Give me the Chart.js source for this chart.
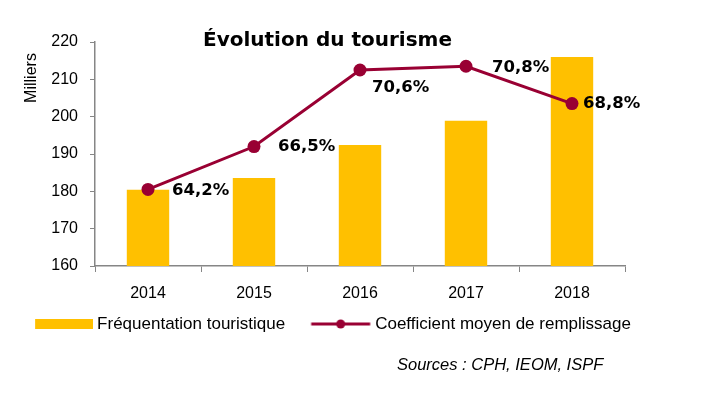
<!DOCTYPE html>
<html>
<head>
<meta charset="utf-8">
<script src="https://cdn.jsdelivr.net/npm/chart.js@4"></script>
<style>
  html, body { margin: 0; padding: 0; background: #fff; }
  #wrap { width: 709px; height: 397px; }
</style>
</head>
<body>
<div id="wrap"><canvas id="chart" width="709" height="397"></canvas></div>
<script>
// Data
const years = ['2014', '2015', '2016', '2017', '2018'];
const frequentation = [180.4, 183.6, 192.4, 198.9, 216.0];   // milliers
const remplissage = [64.2, 66.5, 70.6, 70.8, 68.8];          // %
const yMin = 160, yMax = 220, yStep = 10;

// where each % label sits relative to its point
const labelOffsets = [[24, 1], [24, 0], [12, 18], [26, 1], [11, 0]];

const gold = '#FFC000';
const wine = '#990033';
const axisGrey = '#868686';

// Legend icons (content pushed right inside a wider canvas so the
// gaps between items match the original)
function barIcon() {
    const c = document.createElement('canvas');
    c.width = 81; c.height = 10;
    const ctx = c.getContext('2d');
    ctx.fillStyle = gold;
    ctx.fillRect(23, 0, 58, 10);
    return c;
}
function lineIcon() {
    const c = document.createElement('canvas');
    c.width = 82; c.height = 12;
    const ctx = c.getContext('2d');
    ctx.strokeStyle = wine;
    ctx.lineWidth = 3;
    ctx.beginPath();
    ctx.moveTo(21.5, 6);
    ctx.lineTo(80.5, 6);
    ctx.stroke();
    ctx.fillStyle = wine;
    ctx.beginPath();
    ctx.arc(51, 6, 4.5, 0, Math.PI * 2);
    ctx.fill();
    return c;
}
const legendIcons = [barIcon(), lineIcon()];

// Title, axis caption, source and the % labels
const extras = {
    id: 'extras',
    afterDatasetsDraw(chart) {
        const ctx = chart.ctx;
        ctx.save();
        ctx.fillStyle = '#000';

        ctx.font = 'bold 20px "DejaVu Sans"';
        ctx.textAlign = 'left';
        ctx.textBaseline = 'alphabetic';
        ctx.fillText('Évolution du tourisme', 203, 46);

        ctx.font = 'bold 16.5px "DejaVu Sans"';
        ctx.textBaseline = 'middle';
        const meta = chart.getDatasetMeta(1);
        meta.data.forEach((pt, i) => {
            const txt = remplissage[i].toFixed(1).replace('.', ',') + '%';
            ctx.fillText(txt, pt.x + labelOffsets[i][0], pt.y + labelOffsets[i][1]);
        });

        ctx.font = 'italic 16.5px "Liberation Sans"';
        ctx.fillText('Sources : CPH, IEOM, ISPF', 397, 365);

        ctx.translate(32, 78);
        ctx.rotate(-Math.PI / 2);
        ctx.textAlign = 'center';
        ctx.font = '16px "Liberation Sans"';
        ctx.fillText('Milliers', 0, 0);
        ctx.restore();
    }
};

new Chart(document.getElementById('chart').getContext('2d'), {
    type: 'bar',
    data: {
        labels: years,
        datasets: [{
            label: 'Fréquentation touristique',
            data: frequentation,
            backgroundColor: gold,
            barPercentage: 0.4,
            categoryPercentage: 1,
            yAxisID: 'y',
            order: 1
        }, {
            type: 'line',
            label: 'Coefficient moyen de remplissage',
            data: remplissage,
            borderColor: wine,
            backgroundColor: wine,
            borderWidth: 3,
            pointRadius: 6.5,
            pointBackgroundColor: wine,
            pointBorderWidth: 0,
            tension: 0,
            yAxisID: 'y2',
            order: 0
        }]
    },
    options: {
        responsive: false,
        animation: false,
        devicePixelRatio: 1,
        layout: {
            padding: { left: 0, right: 61.5, top: 42, bottom: 54.5 }
        },
        scales: {
            x: {
                grid: {
                    display: true,
                    offset: true,
                    drawOnChartArea: false,
                    tickLength: 6,
                    color: axisGrey
                },
                border: { color: axisGrey, width: 1.5 },
                ticks: {
                    color: '#000',
                    padding: 12,
                    font: { family: 'Liberation Sans', size: 16 }
                },
                afterFit(scale) { scale.height = 40; }
            },
            y: {
                min: yMin,
                max: yMax,
                grid: {
                    drawOnChartArea: false,
                    tickLength: 5,
                    color: axisGrey
                },
                border: { color: axisGrey, width: 1.5 },
                ticks: {
                    stepSize: yStep,
                    color: '#000',
                    padding: 12,
                    font: { family: 'Liberation Sans', size: 16 }
                },
                afterFit(scale) { scale.width = 95; }
            },
            y2: {
                position: 'right',
                min: 60.1,
                max: 72.1,
                grid: { display: false },
                border: { display: false },
                ticks: { display: false },
                afterFit(scale) { scale.width = 22.5; }
            }
        },
        plugins: {
            tooltip: { enabled: false },
            legend: {
                position: 'bottom',
                labels: {
                    usePointStyle: true,
                    pointStyleWidth: 72,
                    padding: 9.5,
                    color: '#000',
                    font: { family: 'Liberation Sans', size: 17 },
                    generateLabels: chart => chart.data.datasets.map((ds, i) => ({
                        text: ds.label,
                        pointStyle: legendIcons[i],
                        fillStyle: 'rgba(0,0,0,0)',
                        strokeStyle: 'rgba(0,0,0,0)',
                        lineWidth: 0,
                        hidden: false,
                        datasetIndex: i
                    }))
                }
            }
        }
    },
    plugins: [extras]
});
</script>
</body>
</html>
